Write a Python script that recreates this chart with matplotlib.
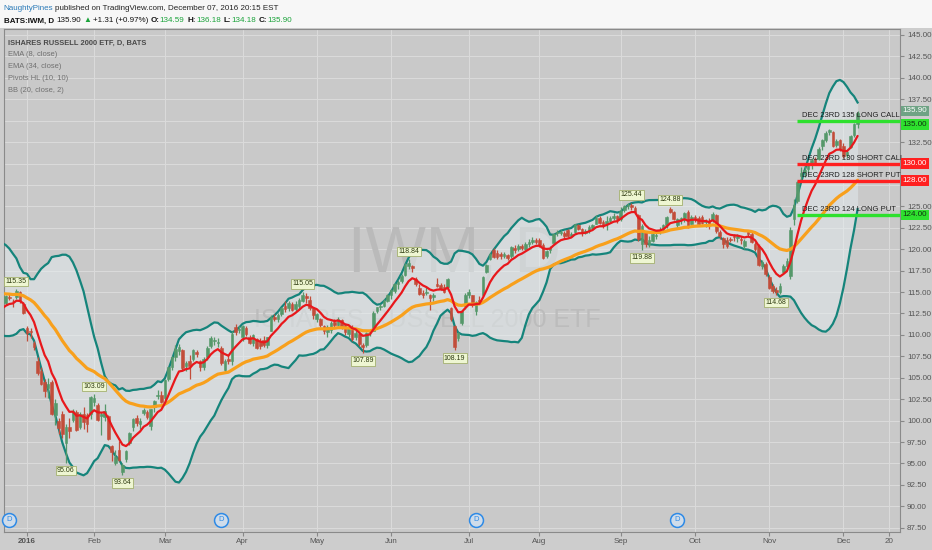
import numpy as np
import pandas as pd
import matplotlib
matplotlib.use("Agg")
import matplotlib.pyplot as plt
import matplotlib.transforms as mtransforms
from matplotlib.patches import Rectangle

NARROW = ["Liberation Sans Narrow", "Liberation Sans", "DejaVu Sans"]
plt.rcParams["font.family"] = NARROW

# ---------------- data ----------------
holidays = ["2015-11-26", "2015-12-25", "2016-01-01", "2016-01-18", "2016-02-15",
            "2016-03-25", "2016-05-30", "2016-07-04", "2016-09-05", "2016-11-24"]
first_day = "2015-10-26"
last_day = "2016-12-07"

# closes before the visible window (only feed the EMAs and the bands)
warmup_close = [114.2, 113.0, 115.7, 114.6, 115.2,
                117.3, 117.9, 117.2, 117.0, 118.2,
                116.9, 117.0, 115.8, 114.2, 113.1,
                114.6, 114.4, 116.3, 116.2, 116.7,
                116.8, 117.6, 118.4, 119.0, 118.8,
                119.8, 118.1, 116.3, 117.8, 115.9,
                115.0, 114.5, 114.7, 111.7, 111.4,
                113.1, 114.8, 112.9, 111.4, 112.2, 113.2]

# visible daily candles 2015-12-23 .. 2016-12-07
opens = [113.7, 114.4, 114.0, 114.4, 115.0, 113.6,
         110.8, 110.4, 109.0, 106.9, 105.8, 104.5, 103.8, 104.5, 100.6, 100.0, 100.8, 97.4, 99.2, 100.1, 101.0, 99.3, 100.8, 100.6, 100.8,
         102.2, 101.8, 100.5, 100.4, 100.5, 97.0, 95.1, 96.6, 94.0, 95.5, 97.4, 99.2, 100.3, 99.6, 100.9, 101.0, 99.4, 101.6, 102.9, 103.0,
         102.6, 104.9, 106.2, 107.4, 108.1, 108.2, 106.4, 107.0, 107.2, 108.0, 106.9, 106.2, 107.4, 108.7, 109.3, 109.1, 108.5, 105.9, 107.2, 106.9, 110.9, 110.6,
         109.7, 110.8, 109.8, 109.0, 109.5, 109.3, 109.4, 108.8, 110.5, 112.1, 111.8, 112.4, 113.4, 113.1, 113.6, 113.0, 113.4, 114.0, 114.5, 114.1, 113.1,
         111.9, 111.9, 111.0, 110.3, 110.6, 111.5, 111.2, 111.7, 111.1, 110.1, 110.9, 109.7, 110.1, 108.8, 108.8, 110.3, 110.5, 112.8, 113.2, 113.4, 114.0,
         114.6, 115.1, 115.9, 116.3, 117.0, 118.1, 118.0, 116.5, 115.5, 114.9, 114.9, 114.6, 114.4, 115.9, 115.8, 115.6, 115.6, 113.1, 111.0, 109.6, 111.4, 113.4,
         114.6, 114.6, 112.8, 114.1, 114.6, 117.3, 118.9, 119.9, 119.6, 119.4, 119.2, 119.3, 119.2, 120.2, 120.0, 120.4, 120.0, 120.6, 120.9, 121.1,
         121.1, 120.5, 119.2, 119.9, 120.7, 121.9, 121.9, 121.9, 122.2, 121.5, 122.0, 122.8, 122.4, 121.9, 122.1, 122.5, 123.0, 123.7, 123.2, 122.9, 123.3, 123.7, 123.9,
         123.5, 124.6, 125.0, 125.2, 124.8, 124.0, 120.6, 122.0, 120.6, 121.0, 121.6, 122.0, 122.4, 122.8, 124.7, 124.3, 122.8, 123.4, 123.6, 124.3, 123.0,
         123.8, 123.6, 123.8, 123.2, 123.3, 123.4, 124.0, 122.0, 121.3, 121.1, 121.2, 121.5, 121.3, 121.2, 120.4, 122.0, 121.8, 120.6, 120.4, 118.1, 118.3,
         116.8, 115.7, 115.2, 115.0, 117.4, 118.0, 116.9, 123.5, 125.6, 128.5, 129.0, 129.4, 129.8, 130.5, 130.5, 132.0, 132.8, 133.7, 133.7, 132.2, 132.7,
         132.1, 131.0, 131.9, 133.3, 134.59]
highs = [114.7, 114.8, 114.2, 115.35, 115.1, 113.8,
         111.0, 110.8, 109.3, 107.4, 106.3, 104.8, 105.0, 104.7, 102.5, 100.3, 101.1, 99.6, 100.3, 101.3, 101.2, 101.0, 101.6, 100.9, 102.9,
         103.09, 102.0, 101.0, 101.9, 100.6, 97.2, 96.6, 97.6, 95.1, 96.6, 98.7, 100.3, 100.6, 100.3, 101.5, 101.2, 101.4, 102.4, 103.6, 103.5,
         104.8, 106.3, 107.5, 108.8, 108.9, 108.3, 106.9, 107.6, 108.3, 108.2, 107.1, 107.4, 108.7, 109.9, 109.7, 109.6, 108.7, 107.2, 107.6, 110.4, 111.3, 111.0,
         111.2, 111.0, 110.0, 110.1, 109.6, 109.6, 109.9, 109.8, 112.3, 112.4, 112.5, 113.2, 113.9, 114.0, 113.8, 113.9, 114.3, 115.05, 114.9, 114.5, 113.3,
         112.6, 112.0, 111.2, 111.1, 111.6, 111.8, 112.1, 111.8, 111.3, 111.0, 111.1, 110.6, 110.4, 109.0, 110.3, 110.6, 112.8, 113.3, 113.6, 114.2, 114.8,
         115.3, 116.0, 116.4, 117.1, 118.4, 118.84, 118.2, 116.8, 115.9, 115.2, 115.6, 114.8, 114.9, 116.6, 116.0, 115.9, 116.6, 113.3, 111.2, 110.3, 112.9, 114.9,
         115.3, 114.7, 114.0, 114.5, 116.9, 118.3, 119.6, 120.2, 119.9, 119.7, 119.7, 119.5, 120.4, 120.5, 120.6, 120.6, 120.8, 121.2, 121.4, 121.3,
         121.3, 120.7, 119.9, 120.4, 121.9, 122.2, 122.3, 122.1, 122.4, 122.0, 123.0, 122.9, 122.5, 122.4, 122.8, 122.9, 124.0, 123.9, 123.4, 123.9, 123.9, 124.2, 124.0,
         124.9, 125.2, 125.4, 125.44, 125.0, 124.1, 122.9, 122.1, 121.5, 122.0, 122.0, 122.6, 122.9, 123.9, 124.88, 124.5, 123.7, 123.8, 124.4, 124.6, 124.0,
         124.0, 123.9, 124.0, 123.5, 123.6, 124.3, 124.1, 122.3, 121.4, 121.4, 121.4, 121.8, 121.8, 121.5, 121.2, 122.3, 122.0, 120.9, 120.6, 118.8, 118.5,
         117.0, 115.9, 115.6, 116.0, 118.3, 119.0, 122.6, 125.9, 128.0, 129.6, 129.7, 130.1, 130.6, 130.8, 131.9, 132.9, 133.8, 134.0, 133.8, 132.9, 132.9,
         132.4, 131.6, 133.3, 134.7, 136.18]
lows = [113.5, 114.1, 113.2, 114.2, 113.7, 112.4,
        109.3, 109.6, 108.2, 105.3, 104.1, 102.8, 102.6, 100.6, 99.5, 98.4, 98.0, 95.06, 98.0, 99.8, 98.8, 99.0, 99.0, 98.7, 100.2,
        101.7, 99.9, 98.3, 100.0, 97.7, 95.3, 94.8, 95.3, 93.64, 95.2, 97.2, 98.8, 99.4, 99.0, 100.7, 100.2, 98.9, 101.0, 102.5, 102.0,
        102.4, 104.6, 105.9, 107.0, 107.6, 105.9, 105.8, 104.9, 106.9, 107.4, 105.8, 105.9, 107.1, 108.5, 108.8, 108.6, 106.5, 105.6, 106.6, 106.5, 110.0, 110.2,
        109.3, 109.9, 108.9, 108.7, 108.3, 108.4, 108.6, 108.5, 110.4, 111.6, 111.5, 112.2, 112.7, 112.8, 112.8, 112.8, 113.0, 113.8, 113.7, 112.9, 111.8,
        111.5, 110.9, 110.1, 109.7, 110.2, 110.9, 111.0, 110.7, 110.0, 109.8, 109.3, 109.4, 108.7, 107.89, 108.6, 109.9, 110.4, 112.5, 112.9, 113.2, 113.8,
        114.2, 114.9, 115.3, 116.1, 116.9, 117.7, 117.4, 115.7, 114.6, 114.3, 114.6, 112.9, 114.0, 115.6, 115.2, 114.9, 115.4, 111.6, 108.19, 109.3, 111.2, 113.0,
        114.3, 113.3, 112.3, 113.6, 114.5, 117.2, 118.7, 119.0, 118.9, 118.9, 119.0, 118.7, 119.0, 119.6, 119.8, 119.9, 119.9, 120.3, 120.6, 120.6,
        120.3, 118.9, 119.0, 119.6, 120.6, 121.6, 121.7, 121.3, 121.4, 121.4, 121.9, 122.2, 121.5, 121.8, 121.9, 122.2, 122.9, 122.9, 122.5, 122.3, 123.1, 123.4, 123.1,
        123.3, 124.4, 124.7, 124.6, 124.1, 121.0, 119.88, 120.3, 120.3, 120.8, 121.2, 121.8, 122.1, 122.5, 124.2, 123.4, 122.5, 123.0, 123.2, 122.5, 122.9,
        123.2, 122.7, 123.0, 122.6, 122.4, 123.2, 121.9, 121.2, 120.1, 120.2, 120.9, 121.0, 120.9, 120.6, 120.0, 121.6, 120.7, 119.8, 118.0, 117.7, 116.9,
        115.3, 114.9, 114.68, 114.8, 117.2, 117.6, 116.5, 122.8, 125.4, 127.8, 128.4, 128.9, 129.4, 129.8, 130.4, 131.6, 132.5, 133.3, 131.9, 131.9, 131.5,
        130.6, 130.6, 131.8, 133.1, 134.18]
closes = [114.5, 114.3, 113.9, 115.1, 113.9, 112.6,
          110.2, 110.3, 108.6, 105.5, 104.3, 103.4, 104.3, 100.8, 102.0, 99.1, 98.4, 99.2, 98.8, 101.1, 98.9, 100.8, 99.8, 99.6, 102.8,
          102.6, 100.1, 100.8, 101.1, 97.9, 96.3, 95.8, 95.4, 94.8, 96.4, 98.5, 100.2, 99.7, 100.0, 101.2, 100.4, 101.3, 102.3, 102.9, 102.2,
          104.7, 106.2, 107.4, 108.3, 108.6, 106.1, 106.7, 106.4, 108.2, 107.8, 106.2, 107.2, 108.5, 109.6, 109.4, 109.2, 106.7, 107.0, 106.9, 110.1, 110.3, 110.6,
          111.0, 110.1, 109.1, 110.0, 108.5, 108.7, 108.8, 109.7, 112.1, 111.8, 112.3, 113.1, 113.0, 113.7, 112.9, 113.6, 114.1, 114.6, 114.3, 113.1, 112.3,
          112.4, 111.2, 110.4, 110.9, 111.4, 111.2, 111.9, 110.9, 110.3, 110.8, 109.5, 110.2, 108.9, 108.6, 110.2, 110.4, 112.6, 113.2, 113.4, 114.0, 114.6,
          115.2, 115.9, 116.2, 116.9, 118.2, 118.4, 117.8, 115.9, 114.8, 114.7, 114.9, 114.3, 114.7, 115.7, 115.4, 115.0, 116.5, 111.8, 108.6, 110.2, 112.8, 114.7,
          115.0, 113.5, 113.8, 113.8, 116.8, 118.2, 119.4, 119.1, 119.1, 119.2, 119.4, 119.0, 120.3, 119.9, 120.4, 120.1, 120.6, 120.9, 121.1, 120.9,
          120.5, 119.0, 119.8, 120.2, 121.8, 121.9, 122.0, 121.6, 121.5, 121.8, 122.9, 122.4, 121.9, 122.1, 122.6, 122.8, 123.7, 123.1, 122.7, 123.3, 123.7, 123.9, 123.5,
          124.5, 125.0, 125.2, 124.9, 124.4, 121.2, 122.7, 120.6, 121.1, 121.8, 121.7, 122.3, 122.8, 123.8, 124.4, 123.5, 123.5, 123.6, 124.2, 122.7, 123.8,
          123.5, 123.0, 123.1, 123.3, 122.8, 124.1, 122.1, 121.5, 120.6, 120.4, 121.1, 121.4, 121.5, 121.1, 121.0, 121.8, 120.9, 120.0, 118.2, 118.5, 117.1,
          115.5, 115.1, 115.0, 115.7, 118.1, 118.6, 122.3, 125.2, 127.8, 128.9, 129.3, 129.8, 130.4, 130.1, 131.7, 132.7, 133.6, 133.9, 132.0, 132.6, 131.7,
          130.9, 131.4, 133.2, 134.59, 135.90]

pivot_dates = ["2015-12-29", "2016-01-20", "2016-02-01", "2016-02-11", "2016-04-26", "2016-05-19",
               "2016-06-08", "2016-06-27", "2016-09-07", "2016-09-12", "2016-09-22", "2016-11-03"]
pivot_values = [115.35, 95.06, 103.09, 93.64, 115.05, 107.89, 118.84, 108.19, 125.44, 119.88, 124.88, 114.68]
pivot_kind = ["H", "L", "H", "L", "H", "L", "H", "L", "H", "L", "H", "L"]

dividend_dates = ["2015-12-24", "2016-03-23", "2016-07-06", "2016-09-26"]

level_prices = [135, 130, 128, 124]
level_names = ["DEC 23RD 135 LONG CALL", "DEC 23RD 130 SHORT CALL",
               "DEC 23RD 128 SHORT PUT", "DEC 23RD 124 LONG PUT"]
level_side = ["long", "short", "short", "long"]
level_from = "2016-11-11"

month_starts = ["2016-01", "2016-02", "2016-03", "2016-04", "2016-05", "2016-06",
                "2016-07", "2016-08", "2016-09", "2016-10", "2016-11", "2016-12"]
month_labels = ["2016", "Feb", "Mar", "Apr", "May", "Jun", "Jul", "Aug", "Sep", "Oct", "Nov", "Dec"]
extra_tick_date, extra_tick_label = "2016-12-20", "20"

# ---------------- positions on a trading-day axis ----------------
days = np.arange(np.datetime64(first_day), np.datetime64(last_day) + 1)
trading = days[np.is_busday(days, holidays=holidays)]
n_warm = len(warmup_close)
assert len(trading) == n_warm + len(closes)
origin = int(np.searchsorted(trading, np.datetime64("2016-01-04")))


def date_pos(d):
    return int(np.searchsorted(trading, np.datetime64(d))) - origin


pos_all = np.arange(len(trading)) - origin
xv = pos_all[n_warm:]

o = np.array(opens)
h = np.array(highs)
l = np.array(lows)
c = np.array(closes)

# indicators
s = pd.Series(warmup_close + closes)
ema8 = s.ewm(span=8, adjust=False).mean().values
ema34 = s.ewm(span=34, adjust=False).mean().values
mid = s.rolling(20).mean()
sd = s.rolling(20).std(ddof=0)
bb_up = (mid + 2 * sd).values
bb_lo = (mid - 2 * sd).values

# ---------------- figure ----------------
BG = "#c9c9c9"
UP, DOWN = "#55986a", "#c24d3a"
TEAL, RED, ORANGE = "#15847b", "#e8181c", "#f8a01c"
W, H = 932, 550

fig = plt.figure(figsize=(W / 100, H / 100), dpi=100, facecolor="#cdcdcd")
fig.add_artist(Rectangle((0, (H - 28) / H), 1, 28 / H, transform=fig.transFigure,
                         fc="#f7f7f7", ec="none", zorder=0))
ax = fig.add_axes([4 / W, 18 / H, 896 / W, 503 / H])
ax.set_facecolor(BG)
ax.set_xlim(-6.5, 247)
ax.set_ylim(87.0, 145.7)

# grid and ticks
tick_pos = [date_pos(m + "-01") for m in month_starts]
tick_pos.append(int(xv[-1] + np.busday_count(last_day, extra_tick_date, holidays=holidays)))
ax.set_xticks(tick_pos, month_labels + [extra_tick_label])
ax.get_xticklabels()[0].set_fontweight("bold")
yticks = np.arange(87.5, 145.01, 2.5)
ax.set_yticks(yticks, [f"{t:.2f}" for t in yticks])
ax.yaxis.tick_right()
# price labels sitting under a tag are covered in the original
for t, lab in zip(yticks, ax.get_yticklabels()):
    if min(abs(t - p) for p in level_prices) <= 0.6:
        lab.set_visible(False)
ax.grid(True, color="#dadada", lw=0.8)
ax.set_axisbelow(True)
ax.tick_params(axis="x", length=3, pad=1.5, labelsize=5.8, labelcolor="#555555", color="#888888")
ax.tick_params(axis="y", length=3, pad=2, labelsize=5.8, labelcolor="#555555", color="#888888")
for sp in ax.spines.values():
    sp.set_color("#8a8a8a")
    sp.set_linewidth(0.8)

# watermark
ax.text(0.503, 0.551, "IWM, D", transform=ax.transAxes, ha="center", va="center",
        fontsize=46, color="#bababa", zorder=1)
ax.text(0.472, 0.421, "ISHARES RUSSELL 2000 ETF", transform=ax.transAxes, ha="center",
        va="center", fontsize=18, color="#bcbcbc", zorder=1)

# Bollinger bands
ax.fill_between(pos_all, bb_lo, bb_up, color="#e4ecef", alpha=0.5, lw=0, zorder=2)
ax.plot(pos_all, bb_up, color=TEAL, lw=1.6, zorder=3)
ax.plot(pos_all, bb_lo, color=TEAL, lw=1.6, zorder=3)

# candles
col = np.where(c >= o, UP, DOWN)
ax.vlines(xv, l, h, colors=col, lw=0.9, zorder=4)
ax.bar(xv, np.maximum(np.abs(c - o), 0.08), bottom=np.minimum(o, c), width=0.74,
       color=col, edgecolor=col, linewidth=0.4, zorder=5)

# EMAs
ax.plot(pos_all, ema34, color=ORANGE, lw=2.3, zorder=6, solid_capstyle="round")
ax.plot(pos_all, ema8, color=RED, lw=1.6, zorder=7, solid_capstyle="round")

# pivot labels
for d, v, k in zip(pivot_dates, pivot_values, pivot_kind):
    up_side = k == "H"
    ax.annotate(f"{v:.2f}", (date_pos(d), v), xytext=(0, 3 if up_side else -3),
                textcoords="offset points", ha="center", va="bottom" if up_side else "top",
                fontsize=5.0, color="#2d3a10", zorder=9,
                bbox=dict(boxstyle="square,pad=0.2", fc="#eef6d2", ec="#a3b06f", lw=0.6))

# trade levels
x0 = date_pos(level_from)
blend = mtransforms.blended_transform_factory(ax.transAxes, ax.transData)
for p, name, side in zip(level_prices, level_names, level_side):
    lc = "#2ee02e" if side == "long" else "#ff2020"
    ax.plot([x0, 247], [p, p], color=lc, lw=2.4, zorder=8, solid_capstyle="butt")
    ax.annotate(name, (x0 + 1.3, p), xytext=(0, 1.2), textcoords="offset points",
                ha="left", va="bottom", fontsize=5.5, color="#202020", zorder=9,
                annotation_clip=False)
    # the tag that would collide with the last-price tag is pushed down a little
    shift = -4 if abs(p - c[-1]) < 1.2 else 0
    tag_tr = mtransforms.offset_copy(blend, fig=fig, y=shift, units="dots")
    ax.text(1.003, p, f"{p:.2f}", transform=tag_tr, ha="left", va="center", fontsize=5.8,
            color="#113311" if side == "long" else "white", zorder=10, clip_on=False,
            bbox=dict(boxstyle="square,pad=0.22", fc=lc, ec="none"))
ax.text(1.003, c[-1], f"{c[-1]:.2f}", transform=mtransforms.offset_copy(blend, fig=fig, y=2, units="dots"),
        ha="left", va="center", fontsize=5.8, color="white", zorder=10, clip_on=False,
        bbox=dict(boxstyle="square,pad=0.22", fc="#6fa385", ec="none"))

# dividend markers
dx = [date_pos(d) for d in dividend_dates]
xt = ax.get_xaxis_transform()
ax.plot(dx, [0.024] * len(dx), "o", transform=xt, ms=10, mfc="#cfdcea", mec="#2e8ae6",
        mew=1.1, zorder=9, clip_on=False)
for x in dx:
    ax.text(x, 0.024, "D", transform=xt, ha="center", va="center", fontsize=5.5,
            color="#2e8ae6", zorder=10)

# ---------------- header and legend text ----------------
renderer = fig.canvas.get_renderer()
ident = mtransforms.IdentityTransform()


def text_run(x, y, pieces, size):
    for txt, color, weight, gap in pieces:
        t = fig.text(x, y, txt, transform=ident, fontsize=size, color=color,
                     fontweight=weight, va="center")
        x += t.get_window_extent(renderer).width + gap


GREEN = "#1aa33a"
chg = c[-1] - c[-2]
text_run(3, H - 8, [("NaughtyPines", "#2a7ab8", "normal", 2),
                    ("published on TradingView.com, December 07, 2016 20:15 EST", "#222222", "normal", 0)], 5.8)
text_run(4, H - 21, [("BATS:IWM, D", "#111111", "bold", 2.5),
                     (f"{c[-1]:.2f}", "#111111", "normal", 2),
                     ("\u25b2", GREEN, "normal", 1.5),
                     (f"+{chg:.2f} (+{chg / c[-2] * 100:.2f}%)", "#111111", "normal", 2.5),
                     ("O:", "#111111", "bold", 0.5), (f"{o[-1]:.2f}", GREEN, "normal", 2.5),
                     ("H:", "#111111", "bold", 0.5), (f"{h[-1]:.2f}", GREEN, "normal", 2.5),
                     ("L:", "#111111", "bold", 0.5), (f"{l[-1]:.2f}", GREEN, "normal", 2.5),
                     ("C:", "#111111", "bold", 0.5), (f"{c[-1]:.2f}", GREEN, "normal", 0)], 5.8)

legend_lines = ["ISHARES RUSSELL 2000 ETF, D, BATS", "EMA (8, close)", "EMA (34, close)",
                "Pivots HL (10, 10)", "BB (20, close, 2)"]
for k, line in enumerate(legend_lines):
    fig.text(8, H - 43 - 11.8 * k, line, transform=ident, va="center", fontsize=5.4,
             color="#4a4a4a" if k == 0 else "#707070", fontweight="bold" if k == 0 else "normal")

fig.savefig("out.png", dpi=100, facecolor=fig.get_facecolor())
